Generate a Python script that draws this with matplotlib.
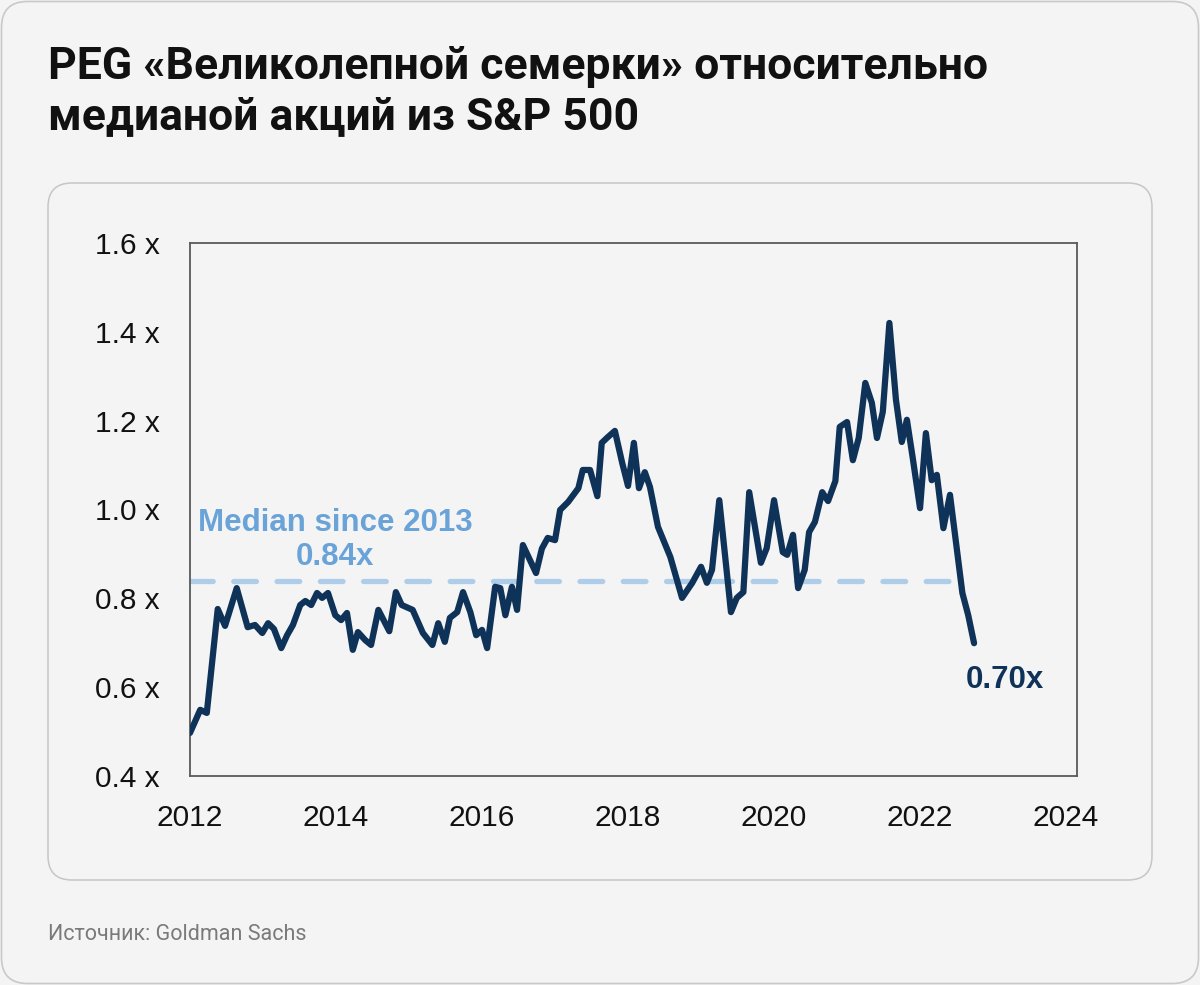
import matplotlib
matplotlib.use("Agg")
import matplotlib.pyplot as plt
from matplotlib.patches import FancyBboxPatch

# PEG ratio of the "Magnificent 7" relative to median S&P 500 stock
years = [
    2012.00, 2012.14, 2012.23, 2012.38, 2012.48, 2012.64, 2012.79, 2012.89, 2012.99,
    2013.07, 2013.15, 2013.25, 2013.33, 2013.41, 2013.51, 2013.58, 2013.66, 2013.74,
    2013.81, 2013.89, 2013.99, 2014.07, 2014.15, 2014.23, 2014.30, 2014.40, 2014.48,
    2014.58, 2014.73, 2014.82, 2014.90, 2015.05, 2015.19, 2015.32, 2015.40, 2015.49,
    2015.56, 2015.66, 2015.74, 2015.84, 2015.92, 2016.00, 2016.07, 2016.18, 2016.25,
    2016.32, 2016.41, 2016.48, 2016.56, 2016.74, 2016.82, 2016.90, 2017.00, 2017.07,
    2017.18, 2017.32, 2017.38, 2017.48, 2017.58, 2017.64, 2017.71, 2017.82, 2017.92,
    2018.00, 2018.08, 2018.15, 2018.23, 2018.30, 2018.41, 2018.58, 2018.74, 2018.88,
    2019.00, 2019.08, 2019.15, 2019.25, 2019.41, 2019.49, 2019.58, 2019.66, 2019.82,
    2019.90, 2020.00, 2020.12, 2020.18, 2020.26, 2020.33, 2020.42, 2020.48, 2020.56,
    2020.66, 2020.74, 2020.84, 2020.90, 2021.00, 2021.08, 2021.16, 2021.25, 2021.34,
    2021.41, 2021.49, 2021.58, 2021.67, 2021.75, 2021.82, 2021.90, 2022.00, 2022.08,
    2022.16, 2022.23, 2022.32, 2022.41, 2022.58, 2022.66, 2022.74,
]
peg = [
    0.497, 0.549, 0.542, 0.776, 0.738, 0.823, 0.735, 0.740, 0.722,
    0.744, 0.731, 0.688, 0.717, 0.740, 0.785, 0.794, 0.785, 0.812,
    0.801, 0.812, 0.762, 0.751, 0.767, 0.684, 0.724, 0.706, 0.695,
    0.774, 0.726, 0.814, 0.785, 0.774, 0.722, 0.695, 0.744, 0.702,
    0.756, 0.769, 0.814, 0.769, 0.717, 0.729, 0.688, 0.826, 0.823,
    0.762, 0.826, 0.774, 0.920, 0.857, 0.912, 0.936, 0.931, 0.999,
    1.017, 1.048, 1.089, 1.089, 1.030, 1.150, 1.161, 1.177, 1.105,
    1.053, 1.150, 1.048, 1.084, 1.051, 0.961, 0.893, 0.801, 0.835,
    0.871, 0.835, 0.864, 1.021, 0.769, 0.801, 0.814, 1.039, 0.880,
    0.913, 1.021, 0.904, 0.898, 0.943, 0.823, 0.864, 0.949, 0.972,
    1.039, 1.019, 1.064, 1.186, 1.197, 1.111, 1.161, 1.285, 1.240,
    1.161, 1.220, 1.420, 1.247, 1.152, 1.202, 1.116, 1.003, 1.172,
    1.066, 1.078, 0.958, 1.033, 0.812, 0.762, 0.699,
]
median_value = 0.84
median_span = [2012.0, 2022.52]

y_ticks = [0.4, 0.6, 0.8, 1.0, 1.2, 1.4, 1.6]
x_ticks = [2012, 2014, 2016, 2018, 2020, 2022, 2024]

title = "PEG «Великолепной семерки» относительно\nмедианой акций из S&P 500"
source = "Источник: Goldman Sachs"

bg = "#f4f4f4"
navy = "#0f3358"
light_blue = "#aecde8"
label_blue = "#69a3d8"

fig = plt.figure(figsize=(12, 9.85), dpi=100, facecolor=bg)

# pixel-space layer for the card, panel and texts
card = fig.add_axes([0, 0, 1, 1], zorder=0)
card.set_xlim(0, 1200)
card.set_ylim(985, 0)
card.axis("off")
card.add_patch(FancyBboxPatch((1.5, 1.5), 1197, 982, boxstyle="round,pad=0,rounding_size=26",
                              facecolor=bg, edgecolor="#c9c9c9", linewidth=1.2))
card.add_patch(FancyBboxPatch((48, 183), 1104, 697, boxstyle="round,pad=0,rounding_size=24",
                              facecolor=bg, edgecolor="#c6c6c6", linewidth=1.1))
card.text(48, 92, title, fontsize=32, fontweight="bold", family="Roboto",
          color="#111111", va="center", ha="left", linespacing=1.27)
card.text(48, 935, source, fontsize=15.5, family="Roboto", color="#7a7a7a",
          va="center", ha="left")

ax = fig.add_axes([190 / 1200, 1 - 776 / 985, 887 / 1200, 533 / 985], zorder=1)
ax.set_facecolor(bg)
ax.plot(median_span, [median_value, median_value], color=light_blue, linewidth=3.8,
        dashes=(4.3, 3.9), dash_capstyle="round", zorder=2)
ax.plot(years, peg, color=navy, linewidth=4.5, solid_joinstyle="round",
        solid_capstyle="round", zorder=3)

ax.text(2013.99, 0.970, "Median since 2013", color=label_blue, fontsize=22.5,
        fontweight="bold", family="Liberation Sans", ha="center", va="center")
ax.text(2013.99, 0.893, f"{median_value:.2f}x", color=label_blue, fontsize=22.5,
        fontweight="bold", family="Liberation Sans", ha="center", va="center")
ax.text(years[-1] + 0.42, 0.616, f"{peg[-1]:.2f}x", color=navy, fontsize=22.5,
        fontweight="bold", family="Liberation Sans", ha="center", va="center")

ax.set_xlim(2012, 2024.15)
ax.set_ylim(0.4, 1.6)
ax.set_yticks(y_ticks)
ax.set_yticklabels([f"{t:.1f} x" for t in y_ticks])
ax.set_xticks(x_ticks)
ax.set_xticklabels([str(t) for t in x_ticks])
ax.tick_params(length=0, labelsize=21.5, colors="#111111")
ax.tick_params(axis="y", pad=22)
ax.tick_params(axis="x", pad=20)
for label in ax.get_xticklabels() + ax.get_yticklabels():
    label.set_family("Liberation Sans")
for spine in ax.spines.values():
    spine.set_color("#5a5a5a")
    spine.set_linewidth(1.3)

fig.savefig("out.png", dpi=100, facecolor=bg)
